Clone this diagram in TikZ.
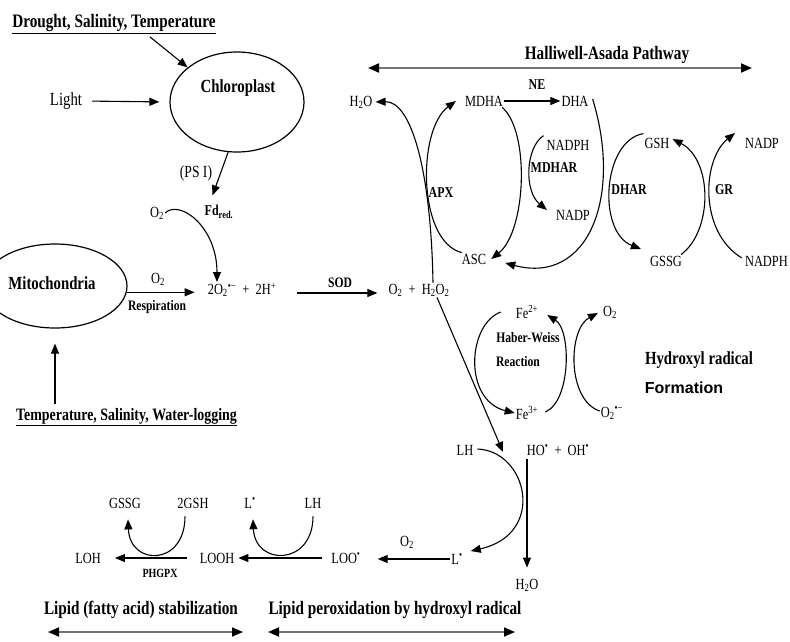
\documentclass[tikz,border=0pt]{standalone}
\usepackage{fontspec}
\setmainfont[FakeStretch=0.8]{Liberation Serif}
\newfontfamily\formfont{Liberation Sans}
\usetikzlibrary{arrows.meta,shapes.geometric}
\newcommand\rad{\textsuperscript{•}}
\newcommand\sbs[1]{\textsubscript{#1}}
\newcommand\sps[1]{\textsuperscript{#1}}
\newcommand\pl{\hspace{0.4em}+\hspace{0.4em}}
\begin{document}
\begin{tikzpicture}[x=1pt,y=-1pt,
  lbl/.style={font=\fontsize{15.5}{17}\selectfont, inner sep=1pt},
  biglbl/.style={font=\fontsize{18.5}{20}\selectfont\bfseries, inner sep=1pt},
  enz/.style={font=\fontsize{15}{17}\selectfont\bfseries, inner sep=1pt},
  small/.style={font=\fontsize{14.5}{16}\selectfont\bfseries, inner sep=1pt},
  tinylbl/.style={font=\fontsize{12.5}{14}\selectfont\bfseries, inner sep=1pt},
  head/.style={font=\fontsize{19}{21}\selectfont\bfseries, inner sep=1pt},
  organelle/.style={draw, ellipse, line width=1.2pt},
  ln/.style={line width=1.1pt},
  arr/.style={ln, -{Triangle[length=10pt,width=8pt]}},
  span/.style={line width=1.8pt, draw=black!55, {Triangle[length=11pt,width=9pt,color=black]}-{Triangle[length=11pt,width=9pt,color=black]}},
]
\path[fill=white, use as bounding box] (0,0) rectangle (790,641);

% ---------- organelles ----------
\node[head] (drought) at (114,24) {\underline{Drought, Salinity, Temperature}};
\node[organelle, minimum width=134pt, minimum height=100pt] (chl) at (237,102) {};
\node[biglbl] (chltxt) at (238,88) {Chloroplast};
\node[font=\fontsize{18.5}{20}\selectfont, inner sep=1pt] (light) at (66,101) {Light};
\node[font=\fontsize{17}{19}\selectfont, inner sep=1pt] (psi) at (196,173) {(PS I)};
\node[lbl] (o2a) at (157,213) {O\sbs{2}};
\node[enz] (fd) at (219,212) {Fd\sbs{red.}};
\node[lbl] (sup) at (242,290) {2O\sbs{2}\sps{•−}\pl 2H\sps{+}};
\node[organelle, minimum width=144pt, minimum height=84pt] (mito) at (55,286) {};
\node[biglbl] (mitotxt) at (52,283) {Mitochondria};
\node[lbl] (o2b) at (158,279) {O\sbs{2}};
\node[small] (resp) at (157,307) {Respiration};
\node[font=\fontsize{17.4}{19}\selectfont\bfseries, inner sep=1pt, anchor=east] (temp) at (238,417) {\underline{Temperature, Salinity, Water-logging}};
\node[small] (sod) at (340,283) {SOD};
\node[lbl] (h2o2) at (419,290) {O\sbs{2}\pl H\sbs{2}O\sbs{2}};

% ---------- Halliwell-Asada ----------
\node[head] (hap) at (607,55) {Halliwell-Asada Pathway};
\coordinate (hapL) at (368,68);
\coordinate (hapR) at (752,68);
\node[lbl] (h2oa) at (361,102) {H\sbs{2}O};
\node[lbl] (mdha) at (484,101) {MDHA};
\node[lbl] (dha) at (575,101) {DHA};
\node[enz] (ne) at (537,85) {NE};
\node[lbl] (asc) at (474,259) {ASC};
\node[enz] (apx) at (441,193) {APX};
\node[lbl] (nadph1) at (568,145) {NADPH};
\node[enz] (mdhar) at (554,168) {MDHAR};
\node[lbl] (nadp1) at (573,215) {NADP};
\node[lbl] (gsh) at (657,143) {GSH};
\node[lbl] (gssg) at (666,261) {GSSG};
\node[lbl] (nadp2) at (762,143) {NADP};
\node[lbl, anchor=east] (nadph2) at (789,261) {NADPH};
\node[enz] (dhar) at (629,190) {DHAR};
\node[enz] (gr) at (724,190) {GR};

% ---------- Haber-Weiss ----------
\node[lbl] (fe2) at (527,312) {Fe\sps{2+}};
\node[lbl] (o2c) at (610,312) {O\sbs{2}};
\node[small] (hw) at (528,338) {Haber-Weiss};
\node[small] (react) at (518,362) {Reaction};
\node[lbl] (fe3) at (527,413) {Fe\sps{3+}};
\node[lbl] (o2r) at (612,413) {O\sbs{2}\sps{•−}};
\node[font=\fontsize{18.5}{20}\selectfont\bfseries, inner sep=1pt] (hyd) at (699,360) {Hydroxyl radical};
\node[font=\formfont\fontsize{16}{18}\selectfont\bfseries, inner sep=1pt] (form) at (684,388) {Formation};

% ---------- lipid ----------
\node[lbl] (lh1) at (465,450) {LH};
\node[lbl] (hooh) at (558,450) {HO\rad\pl OH\rad};
\coordinate (rx) at (503,452);
\node[lbl] (ldot) at (457,559) {L\rad};
\node[lbl] (h2ob) at (527,585) {H\sbs{2}O};
\node[lbl] (o2d) at (407,542) {O\sbs{2}};
\node[lbl] (loo) at (346,558) {LOO\rad};
\node[lbl] (looh) at (217,558) {LOOH};
\node[lbl] (loh) at (88,558) {LOH};
\node[lbl] (gssg2) at (125,503) {GSSG};
\node[lbl] (gsh2) at (193,503) {2GSH};
\node[lbl] (ldot2) at (250,503) {L\rad};
\node[lbl] (lh2) at (313,503) {LH};
\node[tinylbl] (phgpx) at (160,573) {PHGPX};
\node[head] (lip1) at (141,610) {Lipid (fatty acid) stabilization};
\node[head] (lip2) at (395,610) {Lipid peroxidation by hydroxyl radical};
\coordinate (l1L) at (48,632);
\coordinate (l1R) at (243,632);
\coordinate (l2L) at (268,632);
\coordinate (l2R) at (515,632);

% ---------- connectors ----------
\draw[arr] ([shift={(36,2)}]drought.south) -- (chl.145);
\draw[arr, shorten <=9pt, shorten >=10pt] (light.east) -- (chl.west);
\draw[arr] (chl.-100) -- ([shift={(9,-9)}]fd.north west);
\draw[arr] (o2a.east) .. controls +(15,-14) and +(0,-55) .. ([xshift=-25pt]sup.north);
\draw[arr, shorten >=12pt] (mito.-5) -- (mito.-5 -| sup.west);
\draw[arr, shorten <=3pt, shorten >=15pt] (temp.north -| mito.south) -- (mito.south);
\draw[arr, shorten <=20pt, shorten >=10pt] ([shift={(0,3)}]sup.east) -- ([shift={(0,3)}]sup.east -| h2o2.west);

\draw[span] (hapL) -- (hapR);
\draw[arr, shorten >=2pt] ([xshift=14pt]h2o2.north) .. controls +(-2,-111) and +(38,-1) .. (h2oa.east);
\draw[arr] ([shift={(1,0)}]asc.north west) .. controls +(-44,-11) and +(-39,29) .. ([xshift=-8pt]mdha.west);
\draw[arr] (mdha.east) -- (dha.west);
\draw[arr] ([shift={(-2,0)}]mdha.south east) .. controls +(28,24) and +(35,-28) .. ([xshift=4pt]asc.east);
\draw[arr] ([shift={(-2,-3)}]nadph1.north west) .. controls +(-18,12) and +(-23,-19) .. ([shift={(-8,-5)}]nadp1.west);
\draw[arr] ([shift={(3,-2)}]dha.east) .. controls +(30,98) and +(83,22) .. ([shift={(18,4)}]asc.east);
\draw[arr] ([shift={(0,-3)}]gsh.north west) .. controls +(-41,7) and +(-44,-17) .. ([shift={(-8,-12)}]gssg.west);
\draw[arr] ([shift={(-2,0)}]gssg.north east) .. controls +(32,-24) and +(40,21) .. ([shift={(2,-4)}]gsh.east);
\draw[arr] ([shift={(-2,-3)}]nadph2.west) .. controls +(-43,-26) and +(-33,27) .. ([shift={(-9,-10)}]nadp2.west);

\draw[arr] ([xshift=18pt]h2o2.south) -- (rx);
\draw[arr] ([shift={(-14,0)}]fe2.west) .. controls +(-33,12) and +(-52,-13) .. (fe3.west);
\draw[arr] ([shift={(6,-1)}]fe3.east) .. controls +(26,-11) and +(24,15) .. ([shift={(8,3)}]fe2.east);
\draw[arr] ([shift={(0,-2)}]o2r.west) .. controls +(-33,-11) and +(-30,16) .. ([shift={(-4,1)}]o2c.west);

\draw[arr] ([shift={(3,-1)}]lh1.east) .. controls +(50,2) and +(76,-17) .. ([shift={(7,-8)}]ldot.east);
\draw[arr, shorten <=3pt, shorten >=10pt] (h2ob.north |- hooh.south) -- (h2ob.north);
\draw[arr, shorten >=16pt] (ldot.west) -- (ldot.west -| loo.east);
\draw[arr, shorten <=8pt, shorten >=3pt] (loo.west) -- (looh.east);
\draw[arr, shorten <=12pt, shorten >=13pt] (looh.west) -- (loh.east);
\draw[arr] ([shift={(-8,7)}]gsh2.south) .. controls +(0,50) and +(2,47) .. ([shift={(3,10)}]gssg2.south);
\draw[arr] ([shift={(0,7)}]lh2.south) .. controls +(0,50) and +(2,47) .. ([shift={(3,10)}]ldot2.south);
\draw[span] (l1L) -- (l1R);
\draw[span] (l2L) -- (l2R);
\end{tikzpicture}
\end{document}
